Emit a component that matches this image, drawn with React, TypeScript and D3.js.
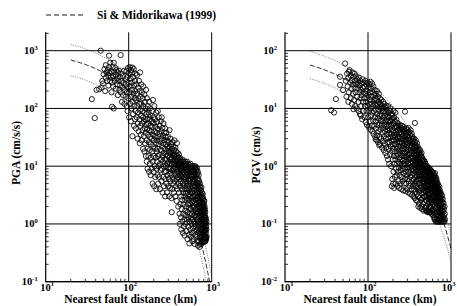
import React from "react";
import * as d3 from "d3";

const curveDist = [20, 30, 45, 60, 80, 100, 150, 200, 300, 400, 500, 600, 700, 800, 900, 950, 1000];

const pgaMean = [690, 577, 450, 357, 269, 206, 112, 64, 23.4, 9.2, 3.8, 1.62, 0.71, 0.312, 0.141, 0.095, 0.064];
const pgaUpper = [1290, 1080, 840, 668, 503, 385, 209, 120, 43.8, 17.2, 7.1, 3.03, 1.33, 0.58, 0.264, 0.178, 0.12];
const pgaLower = [369, 309, 241, 191, 144, 110, 60, 34, 12.5, 4.9, 2.03, 0.87, 0.38, 0.167, 0.075, 0.051, 0.034];

const pgvMean = [56.5, 46.6, 36.0, 28.6, 21.9, 17.1, 10.1, 6.35, 2.84, 1.39, 0.714, 0.38, 0.207, 0.115, 0.0653, 0.049, 0.037];
const pgvUpper = [97.2, 80.2, 61.9, 49.2, 37.7, 29.4, 17.4, 10.9, 4.88, 2.39, 1.23, 0.654, 0.356, 0.198, 0.112, 0.084, 0.0637];
const pgvLower = [32.8, 27.1, 20.9, 16.6, 12.7, 9.94, 5.87, 3.69, 1.65, 0.808, 0.415, 0.221, 0.12, 0.0669, 0.038, 0.0285, 0.0215];

// observed PGA records [distance km, cm/s/s]
const pgaPoints: [number, number][] = [
  [36, 145], [39, 68], [41, 210], [44, 215], [46, 1000], [47, 230], [48, 300], [52, 200], [58, 820], [63, 107], [66, 100], [80, 840],
  [49, 270], [50, 390], [51, 480], [53, 340], [53, 560], [54, 420], [55, 300], [56, 460], [57, 370], [57, 250], [58, 520], [59, 410], [60, 300], [60, 620], [61, 350],
  [62, 440], [62, 190], [63, 280], [64, 520], [65, 360], [65, 240], [66, 620], [67, 430], [68, 300], [69, 500], [70, 380], [70, 220], [71, 460], [72, 330], [73, 260], [74, 420], [74, 170], [75, 300],
  [76, 450], [77, 210], [78, 350], [79, 250], [80, 190], [81, 400], [82, 300], [83, 130], [84, 230], [85, 360], [86, 170], [87, 280], [88, 450], [89, 120], [90, 210], [91, 320], [92, 160], [93, 260], [94, 440], [95, 110], [95, 190],
  [96, 350], [97, 90], [97, 230], [98, 500], [99, 150], [100, 280], [101, 70], [101, 400], [102, 190], [103, 520], [104, 120], [105, 330], [105, 240], [106, 60], [107, 460], [107, 160], [108, 100], [109, 280], [110, 210], [110, 420], [111, 33], [111, 510], [112, 130], [113, 350], [113, 80], [114, 180], [115, 480], [116, 50], [116, 250], [117, 110], [118, 150], [119, 300], [119, 65], [120, 200], [120, 400], [121, 90],
  [122, 45], [123, 140], [124, 260], [125, 70], [126, 180], [126, 380], [127, 110], [128, 30], [129, 55], [130, 230], [130, 85], [131, 150], [132, 40], [133, 300], [134, 120], [135, 65], [135, 200], [136, 25], [137, 420], [137, 95], [138, 50], [139, 160], [140, 35], [141, 75], [142, 260], [142, 120], [143, 28], [144, 190], [145, 55], [146, 90], [147, 42], [148, 150], [149, 20], [149, 70], [150, 110], [150, 240],
  [152, 33], [153, 60], [154, 175], [155, 18], [155, 85], [156, 45], [157, 130], [158, 25], [159, 65], [160, 100], [161, 15], [161, 38], [162, 210], [163, 52], [164, 80], [165, 12], [165, 28], [166, 150], [167, 44], [168, 65], [169, 9], [169, 20], [170, 110], [171, 35], [172, 55], [173, 15], [174, 85], [175, 26], [176, 130], [176, 8], [177, 42], [178, 65], [179, 19], [180, 11], [180, 100], [181, 32], [182, 50],
  [183, 75], [184, 7], [185, 24], [186, 14], [187, 40], [188, 60], [189, 9], [190, 30], [191, 90], [192, 18], [193, 48], [194, 5], [195, 12], [196, 140], [196, 35], [197, 70], [198, 22], [199, 8], [200, 55], [201, 15], [202, 28], [203, 4.5], [204, 110], [205, 40], [206, 10], [207, 20], [208, 65], [209, 6.5], [210, 32], [211, 14], [212, 48], [213, 25], [214, 85], [215, 4], [216, 9], [217, 18], [218, 38], [219, 12], [220, 58], [221, 28], [222, 7], [223, 20], [224, 90], [225, 44], [226, 15], [227, 5], [228, 32], [229, 10], [230, 70],
  [232, 24], [233, 6.5], [235, 50], [236, 16], [237, 36], [238, 4], [239, 11], [241, 27], [242, 8.5], [243, 60], [244, 19], [246, 13], [247, 40], [248, 5.5], [249, 30], [250, 70], [251, 9], [253, 22], [254, 15], [255, 46], [256, 3.5], [258, 12], [259, 34], [260, 6.5], [261, 25], [262, 55], [264, 17], [265, 10], [266, 4.5], [268, 38], [269, 28], [270, 8], [271, 20], [273, 13], [274, 45], [275, 3], [276, 6], [278, 32], [279, 16], [280, 24], [281, 10], [283, 8], [284, 38], [285, 5], [287, 18], [288, 13], [289, 28], [290, 3.5], [292, 11], [293, 22], [294, 7], [296, 32], [297, 15], [298, 4.5], [299, 9.5], [300, 20],
  [302, 12], [303, 26], [305, 6], [306, 17], [307, 3], [309, 9], [310, 42], [311, 14], [312, 22], [314, 4.2], [315, 7.5], [316, 11], [318, 18], [319, 30], [320, 5.5], [322, 13], [323, 9], [325, 24], [326, 16], [327, 2.8], [329, 7], [330, 1.6], [331, 11], [333, 20], [334, 14], [335, 4], [337, 26], [338, 8.5], [340, 6], [341, 17], [343, 12], [344, 22], [346, 5], [347, 9], [349, 15], [350, 3.5], [352, 11], [353, 19], [355, 7.5], [356, 28], [358, 13], [359, 5.5], [361, 9.5], [362, 16], [364, 3], [365, 21], [367, 11], [368, 7], [370, 14], [371, 4.5], [373, 18], [374, 9], [376, 12], [377, 2.5], [379, 6], [380, 25], [382, 15], [383, 8], [385, 10.5], [386, 4], [388, 13], [389, 17], [391, 6.5], [392, 9], [394, 11], [395, 2], [397, 14], [398, 5], [399, 7.5],
  [401, 10], [403, 16], [404, 3.5], [406, 8.5], [407, 12], [409, 6], [410, 1.5], [412, 14], [413, 9.5], [414, 1.0], [416, 4.5], [417, 11], [419, 7], [420, 2.2], [422, 13], [423, 8], [425, 5.5], [426, 1.3], [428, 10], [429, 3], [431, 0.8], [432, 12], [433, 6.5], [435, 9], [436, 1.8], [438, 4], [439, 11], [441, 7.5], [442, 2.6], [444, 1.1], [445, 13], [447, 5], [448, 8.5], [450, 0.7], [451, 10], [453, 3.5], [454, 1.5], [456, 6], [457, 12], [459, 2.2], [460, 8], [462, 4.5], [463, 0.9], [465, 11], [466, 6.5], [468, 1.2], [469, 3], [471, 9.5], [472, 0.63], [474, 5], [475, 7.5], [477, 1.7], [478, 12], [480, 2.6], [481, 4], [483, 10], [484, 1.0], [486, 6], [487, 8.5], [489, 3.4], [490, 1.4], [492, 11], [493, 5.5], [495, 2], [496, 7], [498, 0.75], [499, 9],
  [502, 4.5], [503, 12], [505, 1.2], [506, 2.8], [508, 6.5], [509, 8], [511, 0.55], [512, 3.5], [514, 10], [515, 1.6], [517, 5], [518, 2.2], [520, 7.5], [521, 0.9], [523, 11], [524, 4], [526, 1.3], [527, 6], [529, 2.6], [530, 9], [532, 0.65], [533, 3.2], [535, 8], [536, 1.9], [538, 5.5], [539, 0.46], [541, 10.5], [542, 1.1], [544, 7], [545, 3], [547, 4.5], [548, 1.5], [550, 9], [551, 0.8], [553, 2.2], [554, 6], [556, 11], [557, 3.6], [559, 1.2], [560, 8], [562, 0.6], [563, 5], [565, 1.8], [566, 2.8], [568, 10], [569, 7], [571, 4], [572, 1.0], [574, 6.5], [575, 2.4], [577, 0.7], [578, 9], [580, 1.5], [581, 3.5], [583, 5.5], [584, 8], [586, 0.5], [587, 2], [589, 10], [590, 4.5], [592, 1.2], [593, 7], [595, 3], [596, 0.85], [598, 6], [599, 9.5],
  [601, 1.6], [603, 2.5], [604, 5], [606, 0.55], [607, 8.5], [609, 3.8], [610, 1.1], [612, 7], [613, 2], [615, 10], [616, 0.75], [618, 4.5], [619, 6], [621, 1.4], [622, 3], [624, 9], [625, 0.45], [627, 2.3], [628, 5.5], [630, 1.0], [631, 7.5], [633, 3.5], [634, 1.8], [636, 10], [637, 0.65], [639, 4.5], [640, 2.6], [642, 6.5], [643, 1.3], [645, 8.5], [646, 0.9], [648, 3.2], [649, 5], [651, 1.6], [652, 9.5], [654, 2.2], [655, 0.6], [657, 4], [658, 7], [660, 1.2], [661, 2.8], [663, 6], [664, 0.8], [666, 3.6], [667, 9], [669, 1.5], [670, 5], [672, 2], [673, 0.5], [675, 7.5], [676, 3], [678, 1.0], [679, 4.5], [681, 8], [682, 1.8], [684, 0.42], [685, 2.5], [687, 6], [688, 1.2], [690, 3.5], [691, 0.7], [693, 5], [694, 1.6], [696, 7], [697, 2.3], [699, 0.9],
  [701, 4], [703, 1.3], [704, 0.5], [706, 3], [707, 5.5], [709, 2], [710, 0.75], [712, 1.1], [713, 4.5], [715, 0.4], [716, 2.6], [718, 1.6], [719, 3.5], [721, 0.6], [722, 5], [724, 1.0], [725, 2.2], [727, 0.45], [728, 3], [730, 1.4], [731, 4.2], [733, 0.8], [734, 1.9], [736, 2.8], [737, 0.55], [739, 1.2], [740, 3.8], [742, 0.7], [743, 2.4], [745, 1.6], [746, 0.45], [748, 3.2], [749, 1.0], [751, 2], [752, 4.3], [754, 0.6], [755, 1.3], [757, 2.8], [758, 0.8], [760, 1.7], [761, 3.5], [763, 0.5], [764, 2.3], [766, 1.1], [767, 0.7], [769, 3], [770, 1.5], [772, 2], [773, 0.55], [775, 1.2], [776, 2.7], [778, 0.85], [779, 1.8], [781, 3.3], [782, 0.5], [784, 1.4], [785, 2.3], [787, 0.7], [788, 1.0], [790, 2.8], [791, 1.6], [793, 0.48], [794, 2], [796, 1.2], [797, 0.65], [799, 2.5], [800, 0.9],
  [802, 1.5], [803, 0.55], [805, 2.2], [806, 1.1], [808, 0.75], [809, 1.8], [811, 0.5], [812, 1.3], [814, 2.5], [815, 0.85], [817, 1.6], [818, 0.6], [820, 1.1], [821, 2], [823, 0.5], [824, 0.8], [826, 1.4], [827, 0.65], [829, 1.8], [830, 1.0], [832, 0.55], [833, 1.3], [835, 0.75], [836, 1.6], [838, 0.5], [839, 1.1], [841, 0.9], [842, 0.6], [844, 1.3], [845, 0.8], [847, 0.55], [848, 1.0], [850, 0.7], [852, 1.2], [854, 0.6], [856, 0.9], [859, 0.55], [862, 0.8], [865, 1.1], [868, 0.6],
];

// observed PGV records [distance km, cm/s]
const pgvPoints: [number, number][] = [
  [36, 9.3], [39, 8.5], [41, 14.5], [46, 25.5], [46, 35.4], [50, 20.8], [53, 60], [59, 43], [67, 9.7], [82, 7.5], [124, 2.9], [127, 2.83], [137, 2.3], [279, 8.8], [367, 5.6],
  [54, 30], [55, 16], [56, 40], [57, 24], [58, 13], [58, 34], [59, 19], [60, 46], [61, 28], [62, 15], [62, 37], [63, 22], [64, 12], [64, 31], [65, 42], [66, 18], [66, 26], [67, 35], [68, 14], [69, 23], [69, 40], [70, 11], [70, 30], [71, 19], [72, 36], [72, 26], [73, 10], [74, 16], [74, 32], [75, 22],
  [76, 28], [77, 9], [77, 13], [78, 34], [79, 19], [79, 25], [80, 8], [81, 15], [81, 30], [82, 21], [83, 11], [84, 27], [84, 17], [85, 6.5], [86, 32], [86, 23], [87, 13], [88, 9], [88, 19], [89, 28], [90, 15], [91, 7], [91, 24], [92, 11], [93, 30], [93, 18], [94, 5.8], [95, 13], [95, 26], [96, 9], [97, 20], [97, 5.2], [98, 15], [99, 28], [99, 11], [100, 7],
  [101, 23], [101, 17], [102, 4.8], [103, 12], [103, 9], [104, 26], [105, 6], [105, 19], [106, 14], [107, 4.3], [107, 29], [108, 10], [109, 22], [109, 7.5], [110, 16], [111, 5], [111, 12], [112, 27], [113, 4], [113, 8.5], [114, 19], [115, 11], [115, 6.2], [116, 24], [117, 14], [117, 3.6], [118, 9], [119, 17], [119, 5], [120, 21], [121, 7], [121, 12], [122, 3.2], [123, 15], [123, 9.5], [124, 18], [125, 4.5], [125, 6], [126, 11], [127, 14], [128, 3.4], [128, 20], [129, 8], [130, 5.2], [130, 12],
  [131, 16], [132, 2.6], [132, 6.8], [133, 9.5], [134, 4], [135, 13], [135, 18], [136, 7.5], [137, 3.2], [138, 10.5], [139, 5.5], [139, 15], [140, 2.4], [141, 8], [142, 12], [142, 4.3], [143, 6.2], [144, 3], [145, 10], [145, 14], [146, 5], [147, 7.5], [148, 2.1], [149, 11], [149, 3.8], [150, 6], [151, 8.8], [152, 2.7], [152, 13], [153, 4.6], [154, 10], [155, 1.9], [155, 6.8], [156, 3.3], [157, 9], [158, 5.2], [158, 12], [159, 2.4], [160, 7.5], [161, 4], [162, 10.5], [162, 1.7], [163, 6], [164, 3], [165, 8.5], [166, 4.8], [166, 2.1], [167, 11], [168, 6.5], [169, 1.5], [169, 3.6], [170, 9.5], [171, 5], [172, 2.6], [173, 7.2], [174, 1.3], [174, 4.2], [175, 11], [176, 3], [177, 6], [177, 8.3], [178, 2], [179, 5.2], [180, 1.1], [180, 3.8],
  [181, 7], [182, 2.6], [183, 9], [184, 4.4], [185, 1.6], [186, 6], [186, 3.2], [187, 10], [188, 2.2], [189, 5], [190, 7.8], [190, 1.0], [191, 3.6], [192, 2.8], [193, 6.5], [194, 0.45], [194, 4.2], [195, 1.8], [196, 0.6], [196, 8], [197, 2.4], [198, 5.2], [199, 3.2], [199, 1.3], [200, 6.8], [201, 0.5], [201, 2], [202, 4], [203, 9], [203, 0.8], [204, 2.8], [205, 5.5], [205, 1.5], [206, 3.5], [207, 0.42], [207, 7], [208, 1.1], [209, 2.4], [210, 4.6], [211, 0.65], [211, 6], [212, 1.8], [213, 3.2], [214, 8.5], [214, 1.3], [215, 0.5], [216, 2.4], [217, 5], [217, 4], [218, 0.9], [219, 2.9], [220, 6.4], [220, 1.5], [221, 0.7], [222, 3.6], [223, 2], [224, 4.8], [224, 1.1], [225, 0.45], [226, 2.6], [227, 5.6], [228, 1.6], [228, 3.2], [229, 0.8], [230, 4.2], [231, 2.2], [232, 1.2], [233, 0.55], [233, 3], [234, 5], [235, 1.8], [236, 0.95], [237, 3.8], [238, 2.6], [238, 0.42], [239, 1.4], [240, 4.4],
  [241, 0.7], [242, 2], [243, 3.2], [244, 5.2], [245, 1.1], [246, 0.5], [246, 2.6], [247, 1.6], [248, 3.9], [249, 0.85], [250, 2.2], [251, 4.6], [252, 1.3], [252, 0.4], [253, 3], [254, 1.9], [255, 0.65], [256, 5], [257, 2.5], [257, 1.0], [258, 3.6], [259, 1.5], [260, 0.55], [261, 4.3], [262, 2], [262, 0.9], [263, 2.9], [264, 1.25], [265, 0.38], [266, 3.3], [267, 1.7], [268, 4.8], [268, 0.75], [269, 2.3], [270, 1.1], [271, 3.8], [272, 0.5], [273, 1.5], [273, 2.7], [274, 4.4], [275, 0.9], [276, 2], [277, 1.3], [278, 3.2], [279, 0.6], [280, 2.4], [281, 4], [281, 1.7], [282, 0.37], [283, 1.05], [284, 2.9], [285, 0.8], [286, 3.6], [287, 1.45], [288, 2.1], [289, 0.5], [290, 4.5], [291, 1.2], [291, 2.6], [292, 0.7], [293, 1.8], [294, 3.3], [295, 0.95], [296, 0.4], [297, 2.3], [298, 1.4], [299, 4.2], [300, 0.6],
  [301, 2.9], [302, 1.1], [303, 1.9], [304, 3.8], [305, 0.8], [306, 0.35], [306, 2.5], [307, 1.6], [308, 4.6], [309, 0.55], [310, 1.3], [311, 3.1], [312, 2.1], [313, 0.75], [314, 1.05], [315, 3.9], [316, 0.45], [317, 2.7], [318, 1.7], [319, 0.95], [320, 3.4],
  [322, 1.4], [323, 0.33], [324, 2.3], [325, 0.65], [326, 4.2], [327, 1.15], [328, 1.9], [329, 0.5], [330, 3], [331, 0.85], [332, 2.6], [333, 1.35], [334, 0.4], [335, 3.7], [336, 1.7], [337, 0.7], [338, 2.2], [339, 1.0], [340, 0.32], [341, 3.3], [342, 1.5], [343, 0.55], [344, 2.5], [345, 0.9], [346, 1.2], [347, 3], [348, 0.45], [349, 2], [350, 1.4], [351, 0.75], [352, 2.7], [353, 0.3], [354, 1.05], [355, 1.8], [356, 0.6], [357, 2.4], [358, 1.25], [359, 0.4], [360, 3], [361, 0.85], [362, 1.6], [363, 2.1], [364, 0.5], [365, 1.1], [366, 0.28], [367, 2.6], [368, 0.7], [369, 1.4], [370, 1.9], [371, 0.95], [372, 0.36], [373, 2.3], [374, 1.2], [375, 0.55], [376, 1.7], [377, 0.8], [378, 2.8], [379, 0.26], [380, 1.05], [381, 1.5], [382, 0.45], [383, 2.1], [384, 0.68], [385, 1.3], [386, 0.33], [387, 1.85], [388, 0.9], [389, 2.5], [390, 0.55], [391, 1.15], [392, 0.25], [393, 1.6], [394, 0.75], [395, 2.2], [396, 0.4], [397, 1.0], [398, 1.4], [399, 0.6], [400, 1.9],
  [401, 0.3], [402, 0.85], [403, 1.25], [404, 0.2], [405, 1.7], [406, 0.5], [407, 1.1], [408, 2], [409, 0.7], [410, 0.36], [411, 1.45], [412, 0.95], [413, 0.22], [414, 1.75], [415, 0.6], [416, 1.2], [417, 0.42], [418, 0.8], [419, 1.55], [420, 0.28],
  [422, 1.05], [423, 0.5], [424, 1.9], [425, 0.68], [426, 0.19], [427, 1.3], [428, 0.9], [430, 0.38], [431, 1.6], [432, 0.58], [433, 1.15], [435, 0.26], [436, 0.8], [437, 1.45], [438, 0.45], [440, 1.0], [441, 0.2], [442, 1.7], [443, 0.65], [445, 0.34], [446, 1.25], [447, 0.88], [448, 0.5], [450, 0.18], [451, 1.4], [452, 0.72], [453, 0.28], [455, 1.05], [456, 0.55], [457, 0.4], [459, 1.3], [460, 0.8], [461, 0.22], [463, 0.62], [464, 1.15], [465, 0.35], [467, 0.95], [468, 0.5], [469, 0.17], [471, 1.25], [472, 0.7], [473, 0.3], [475, 0.85], [476, 0.45], [477, 1.05], [479, 0.24], [480, 0.6], [481, 0.38], [483, 1.2], [484, 0.78], [485, 0.19], [487, 0.52], [488, 0.95], [489, 0.3], [491, 0.68], [492, 0.42], [493, 1.1], [495, 0.17], [496, 0.85], [497, 0.26], [499, 0.58], [500, 0.36],
  [501, 1.0], [503, 0.72], [504, 0.2], [505, 0.47], [507, 0.9], [508, 0.3], [509, 0.62], [511, 0.17], [512, 0.8], [513, 0.4], [515, 1.0], [516, 0.25], [517, 0.55], [519, 0.7], [520, 0.33], [521, 0.16], [523, 0.88], [524, 0.48], [525, 0.22], [527, 0.64], [528, 0.38], [529, 0.95], [531, 0.28], [532, 0.75], [533, 0.18], [535, 0.52], [536, 0.85], [537, 0.32], [539, 0.44], [540, 0.16], [541, 0.68], [543, 0.24], [544, 0.92], [545, 0.4], [547, 0.58], [548, 0.2], [549, 0.78], [551, 0.34], [552, 0.48], [553, 0.16], [555, 0.66], [556, 0.27], [557, 0.88], [559, 0.42],
  [560, 0.2], [562, 0.6], [563, 0.33], [565, 0.78], [566, 0.16], [568, 0.5], [569, 0.26], [571, 0.7], [572, 0.4], [574, 0.85], [575, 0.19], [577, 0.55], [578, 0.3], [580, 0.15], [581, 0.65], [583, 0.45], [584, 0.24], [586, 0.8], [587, 0.36], [589, 0.17], [590, 0.52], [592, 0.28], [593, 0.72], [595, 0.42], [596, 0.15], [598, 0.6], [599, 0.22],
  [601, 0.34], [602, 0.78], [604, 0.48], [605, 0.18], [607, 0.64], [608, 0.28], [610, 0.14], [611, 0.4], [613, 0.56], [614, 0.22], [616, 0.75], [617, 0.32], [619, 0.16], [620, 0.46], [622, 0.62], [623, 0.26], [625, 0.13], [626, 0.38], [628, 0.7], [629, 0.2], [631, 0.52], [632, 0.3], [634, 0.12], [635, 0.44], [637, 0.6], [638, 0.24], [640, 0.76], [641, 0.16], [643, 0.36], [644, 0.5], [646, 0.12], [647, 0.27], [649, 0.66], [650, 0.42], [652, 0.19], [653, 0.56], [655, 0.31], [656, 0.11], [658, 0.46], [659, 0.23], [661, 0.62], [662, 0.35], [664, 0.14], [665, 0.5], [667, 0.27], [668, 0.4], [670, 0.11], [671, 0.58], [673, 0.2], [674, 0.33], [676, 0.46], [677, 0.15], [679, 0.26], [680, 0.52], [682, 0.38], [683, 0.12], [685, 0.22], [686, 0.44], [688, 0.3], [689, 0.16], [691, 0.5], [692, 0.11], [694, 0.36], [695, 0.24], [697, 0.42], [698, 0.14], [700, 0.3],
  [702, 0.19], [704, 0.46], [706, 0.11], [708, 0.34], [710, 0.25], [712, 0.16], [714, 0.4], [716, 0.12], [718, 0.28], [720, 0.21], [722, 0.36], [724, 0.14], [726, 0.44], [728, 0.11], [730, 0.31], [732, 0.18], [734, 0.24], [736, 0.38], [738, 0.13], [740, 0.27], [742, 0.2], [744, 0.33], [746, 0.11], [748, 0.16], [750, 0.3], [752, 0.22], [754, 0.13], [756, 0.26], [758, 0.18], [760, 0.34], [762, 0.11], [765, 0.22], [768, 0.15], [771, 0.28], [774, 0.12], [777, 0.19], [780, 0.31], [783, 0.14], [786, 0.24], [789, 0.11], [792, 0.17], [795, 0.27], [798, 0.13], [801, 0.2], [804, 0.11], [808, 0.16], [812, 0.23], [816, 0.12], [820, 0.18], [825, 0.14], [830, 0.11], [835, 0.2], [840, 0.15], [846, 0.12],
];

const legendLabel = "Si & Midorikawa (1999)";
const xTitle = "Nearest fault distance (km)";

const FONT = "'Liberation Serif', 'Times New Roman', Times, serif";
const W = 457;
const H = 306;
const PLOT_W = 166;
const Y_BOTTOM = 281.7;
const Y_TOP = 33.3;

type PanelProps = {
  id: string;
  x0: number;
  points: [number, number][];
  mean: number[];
  upper: number[];
  lower: number[];
  yMin: number;
  yMax: number;
  yTitle: string;
  yTitleY: number;
};

const Panel = ({ id, x0, points, mean, upper, lower, yMin, yMax, yTitle, yTitleY }: PanelProps) => {
  const x = d3.scaleLog().domain([10, 1000]).range([x0, x0 + PLOT_W]);
  const y = d3.scaleLog().domain([yMin, yMax]).range([Y_BOTTOM, Y_TOP]);

  const eMin = Math.round(Math.log10(yMin));
  const eMax = Math.floor(Math.log10(yMax));
  const yDecades = d3.range(eMin, eMax + 1);
  const yMinor: number[] = [];
  yDecades.forEach((e) => {
    for (let k = 2; k <= 9; k++) {
      const v = k * Math.pow(10, e);
      if (v <= yMax * 1.0001) yMinor.push(v);
    }
  });
  const xMinor: number[] = [];
  [1, 2].forEach((e) => {
    for (let k = 2; k <= 9; k++) xMinor.push(k * Math.pow(10, e));
  });

  const line = d3
    .line<[number, number]>()
    .x((d) => x(d[0]))
    .y((d) => y(d[1]))
    .curve(d3.curveMonotoneX);
  const toPts = (vals: number[]) => curveDist.map((d, i) => [d, vals[i]] as [number, number]);

  return (
    <g>
      <defs>
        <clipPath id={id}>
          <rect x={x0} y={Y_TOP - 2} width={PLOT_W} height={Y_BOTTOM - Y_TOP + 2} />
        </clipPath>
      </defs>

      {/* grid */}
      {yDecades.map((e) => (
        <line key={"h" + e} x1={x0} x2={x0 + PLOT_W} y1={y(Math.pow(10, e))} y2={y(Math.pow(10, e))} stroke="#000" strokeWidth={1} />
      ))}
      {[100, 1000].map((v) => (
        <line key={"v" + v} x1={x(v)} x2={x(v)} y1={Y_BOTTOM} y2={Y_TOP - 1} stroke="#000" strokeWidth={1} />
      ))}

      {/* model curves */}
      <g clipPath={`url(#${id})`}>
        <path d={line(toPts(upper)) || ""} fill="none" stroke="#444" strokeWidth={0.7} strokeDasharray="1 1.4" />
        <path d={line(toPts(lower)) || ""} fill="none" stroke="#444" strokeWidth={0.7} strokeDasharray="1 1.4" />
        <path d={line(toPts(mean)) || ""} fill="none" stroke="#000" strokeWidth={0.8} strokeDasharray="5 2" />
      </g>

      {/* records */}
      {points.map((p, i) => (
        <circle key={i} cx={x(p[0])} cy={y(p[1])} r={2.6} fill="none" stroke="#000" strokeWidth={0.85} />
      ))}

      {/* axes */}
      <line x1={x0} x2={x0} y1={Y_BOTTOM + 0.5} y2={Y_TOP - 1} stroke="#000" strokeWidth={1.2} />
      <line x1={x0} x2={x0 + PLOT_W} y1={Y_BOTTOM} y2={Y_BOTTOM} stroke="#000" strokeWidth={1.2} />
      {yMinor.map((v) => (
        <line key={"ym" + v} x1={x0} x2={x0 + 3} y1={y(v)} y2={y(v)} stroke="#000" strokeWidth={0.8} />
      ))}
      {xMinor.map((v) => (
        <line key={"xm" + v} x1={x(v)} x2={x(v)} y1={Y_BOTTOM} y2={Y_BOTTOM - 3} stroke="#000" strokeWidth={0.8} />
      ))}

      {/* tick labels */}
      {yDecades.map((e) => (
        <text key={"yl" + e} x={x0 - 8} y={y(Math.pow(10, e)) + 3.5} textAnchor="end" fontFamily={FONT} fontWeight="bold" fontSize={10.5}>
          10
          <tspan fontSize={6.5} dy={-4.5}>{e}</tspan>
        </text>
      ))}
      {[1, 2, 3].map((e) => (
        <text
          key={"xl" + e}
          x={Math.min(x(Math.pow(10, e)) + 1.5, W - 8.5)}
          y={Y_BOTTOM + 9}
          textAnchor="middle"
          fontFamily={FONT}
          fontWeight="bold"
          fontSize={10.5}
        >
          10
          <tspan fontSize={6.5} dy={-4.5}>{e}</tspan>
        </text>
      ))}

      {/* titles */}
      <text x={x0 + PLOT_W / 2 + 2} y={H - 3.5} textAnchor="middle" fontFamily={FONT} fontWeight="bold" fontSize={11.5}>
        {xTitle}
      </text>
      <text
        transform={`translate(${x0 - 25.5},${yTitleY}) rotate(-90)`}
        textAnchor="middle"
        fontFamily={FONT}
        fontWeight="bold"
        fontSize={11.5}
      >
        {yTitle}
      </text>
    </g>
  );
};

export default function App() {
  return (
    <svg width={W} height={H} style={{ position: "absolute", left: 0, top: 0, background: "#fff" }}>
      <rect width={W} height={H} fill="#fff" />
      {/* legend */}
      <line x1={46} x2={84} y1={15} y2={15} stroke="#000" strokeWidth={0.9} strokeDasharray="5 3" />
      <text x={97} y={19} fontFamily={FONT} fontWeight="bold" fontSize={11.5}>
        {legendLabel}
      </text>

      <Panel id="clipPga" x0={45.7} points={pgaPoints} mean={pgaMean} upper={pgaUpper} lower={pgaLower} yMin={0.1} yMax={2000} yTitle="PGA (cm/s/s)" yTitleY={153} />
      <Panel id="clipPgv" x0={285} points={pgvPoints} mean={pgvMean} upper={pgvUpper} lower={pgvLower} yMin={0.01} yMax={200} yTitle="PGV (cm/s)" yTitleY={155} />
    </svg>
  );
}
